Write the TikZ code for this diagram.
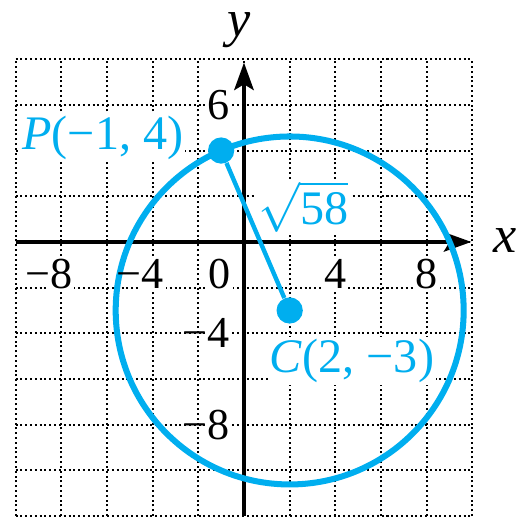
\documentclass[tikz,border=0pt]{standalone}
\usepackage{fontspec}
\setmainfont{Liberation Serif}
\usetikzlibrary{arrows.meta, positioning}
\definecolor{ccyan}{HTML}{00AEEF}
\tikzset{
  every picture/.style={x=0.4cm, y=0.4cm},
  gridline/.style={black, line width=1pt, dash pattern=on 1pt off 1.4pt},
  axis/.style={-{Stealth[length=0.48cm, width=0.34cm, inset=0.1cm]}, black, line width=2pt},
  ticklbl/.style={font=\fontsize{22}{24}\selectfont, fill=white, inner sep=1pt},
  axlbl/.style={font=\fontsize{26}{28}\selectfont\itshape, inner sep=0pt},
  ptlbl/.style={font=\fontsize{24}{26}\selectfont, text=ccyan, fill=white, inner sep=1pt},
  ptdot/.style={circle, fill=ccyan, inner sep=0pt, minimum size=0.46cm},
}

\begin{document}
\begin{tikzpicture}
  \useasboundingbox (-10.68,-12) rectangle (11.95,10.59);
  % grid
  \draw[gridline] (-10,-12) grid[step=2] (10,8);
  % labels of the points
  \node[ptlbl, anchor=east] (plbl) at (-2.55,4.55) {\textit{P}(−1, 4)};
  \node[ptlbl] (rlbl) at (2.6,1.55) {$\sqrt{\mbox{58}}$};
  \node[ptlbl] (clbl) at (4.73,-5.2) {\textit{C}(2, −3)};
  % axes
  \coordinate (xmin) at (-10,0);
  \coordinate (xmax) at (9.95,0);
  \coordinate (ymin) at (0,-12);
  \coordinate (ymax) at (0,7.85);
  \draw[axis] (xmin) -- (xmax);
  \draw[axis] (ymin) -- (ymax);
  \node[axlbl] (xlbl) at (11.45,0.05) {x};
  \node[axlbl] (ylbl) at (-0.2,9.25) {y};
  % circle and radius
  \node[ptdot] (P) at (-1,4) {};
  \node[ptdot] (C) at (2,-3) {};
  \draw[ccyan, line width=3pt] (C.center) circle[radius={sqrt(58)}];
  \draw[ccyan, line width=2.2pt] (P) -- (C);
  % tick labels
  \foreach \v/\t in {-8/\llap{−}8, -4/\llap{−}4, 4/4, 8/8}
    \node[ticklbl] (xt\v) at (\v,-1.4) {\t};
  \node[ticklbl] (orig) at (-1.05,-1.4) {0};
  \foreach \v/\t in {6/6, -4/\llap{−}4, -8/\llap{−}8}
    \node[ticklbl] (yt\v) at (-1.1,\v) {\t};
\end{tikzpicture}
\end{document}
